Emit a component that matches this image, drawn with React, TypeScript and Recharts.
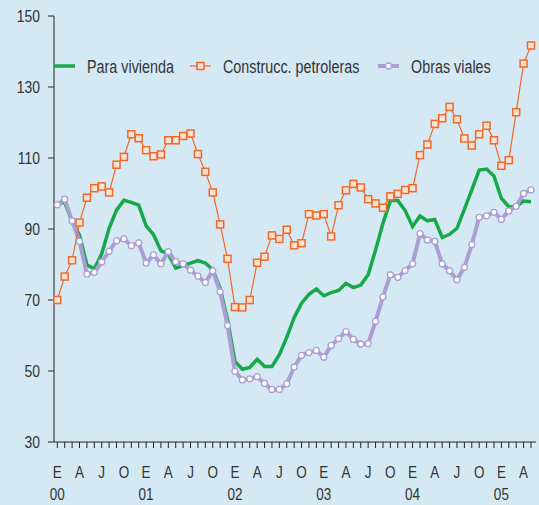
import { LineChart, Line, XAxis, YAxis, Legend } from "recharts";

// monthly series, Jan 2000 - May 2005
const monthLetters = ["E", "F", "M", "A", "M", "J", "J", "A", "S", "O", "N", "D"];
const years = ["00", "01", "02", "03", "04", "05"];

const vivienda = [
  97.0, 97.5, 92.1, 88.3, 79.9, 78.7, 83.0, 90.2, 95.3, 98.1, 97.5, 96.7,
  90.9, 88.4, 83.9, 83.0, 79.0, 79.7, 80.4, 81.1, 80.4, 78.5, 73.3, 64.4,
  52.7, 50.5, 51.0, 53.3, 51.3, 51.3, 54.6, 59.5, 65.0, 69.1, 71.6, 73.1,
  71.2, 72.1, 72.7, 74.7, 73.5, 74.2, 77.1, 84.1, 91.6, 98.0, 98.0, 95.2,
  90.7, 93.7, 92.3, 92.7, 87.6, 88.5, 90.2, 95.5, 101.0, 106.6, 106.9, 104.9,
  98.6, 96.3, 96.3, 97.9, 97.7,
];

const petroleras = [
  70.0, 76.6, 81.2, 91.8, 98.8, 101.5, 102.0, 100.3, 108.1, 110.3, 116.7, 115.6,
  112.2, 110.5, 111.0, 115.0, 115.0, 116.2, 116.9, 111.1, 106.1, 100.3, 91.3, 81.6,
  68.0, 67.9, 70.0, 80.5, 82.2, 88.2, 87.2, 89.8, 85.4, 86.0, 94.2, 93.8,
  94.2, 87.9, 96.7, 100.9, 102.7, 101.7, 98.4, 97.2, 96.0, 99.2, 99.9, 101.0,
  101.5, 110.8, 113.8, 119.6, 121.2, 124.4, 120.9, 115.5, 113.5, 116.7, 119.1, 115.0,
  107.8, 109.4, 122.9, 136.6, 141.7,
];

const viales = [
  96.8, 98.4, 92.3, 86.5, 77.3, 77.8, 80.7, 83.7, 86.7, 87.2, 85.3, 86.1,
  80.4, 82.7, 80.2, 83.6, 80.8, 80.2, 78.4, 76.7, 74.9, 78.2, 72.3, 62.8,
  49.9, 47.5, 47.8, 48.4, 46.5, 44.8, 44.8, 46.4, 51.1, 54.4, 55.2, 55.8,
  53.9, 57.2, 59.1, 61.1, 58.9, 57.6, 57.7, 64.0, 70.9, 77.1, 76.4, 78.3,
  80.2, 88.7, 86.9, 86.5, 80.2, 78.2, 75.7, 79.2, 85.6, 93.3, 93.7, 94.7,
  92.7, 95.1, 96.4, 100.0, 101.0,
];

const yTicks = [30, 50, 70, 90, 110, 130, 150];

const data = vivienda.map((v, i) => ({
  i,
  vivienda: v,
  petroleras: petroleras[i],
  viales: viales[i],
}));
const xTicks = data.map((d) => d.i);

const FONT = '"Liberation Sans", Arial, sans-serif';
const NARROW = 0.82; // squeeze to look like a condensed face
const TEXT = "#333333";
const GREEN = "#17a84a";
const ORANGE = "#f0692a";
const PURPLE = "#ab9ed2";

function NarrowText({ x, y, size, anchor, children }: any) {
  return (
    <text
      transform={`translate(${x},${y}) scale(${NARROW},1)`}
      textAnchor={anchor}
      fontSize={size}
      fill={TEXT}
      fontFamily={FONT}
    >
      {children}
    </text>
  );
}

function MonthTick(props: any) {
  const { x, y, payload } = props;
  const i = payload.value as number;
  if (i % 3 !== 0) return null;
  return (
    <g>
      <NarrowText x={x} y={y + 28} size={16.5} anchor="middle">
        {monthLetters[i % 12]}
      </NarrowText>
      {i % 12 === 0 && (
        <NarrowText x={x} y={y + 50} size={16.5} anchor="middle">
          {years[i / 12]}
        </NarrowText>
      )}
    </g>
  );
}

function ValueTick(props: any) {
  const { x, y, payload } = props;
  return (
    <NarrowText x={x} y={y + 6} size={17} anchor="end">
      {payload.value}
    </NarrowText>
  );
}

function SquareDot(props: any) {
  const { cx, cy } = props;
  if (cx == null || cy == null) return null;
  return (
    <rect x={cx - 3.5} y={cy - 3.5} width={7} height={7} fill="#fbe2d2" stroke={ORANGE} strokeWidth={1.5} />
  );
}

function CircleDot(props: any) {
  const { cx, cy } = props;
  if (cx == null || cy == null) return null;
  return <circle cx={cx} cy={cy} r={3} fill="#ffffff" stroke={PURPLE} strokeWidth={1.3} />;
}

const legendItems = [
  { name: "Para vivienda", kind: "line", at: 0 },
  { name: "Construcc. petroleras", kind: "square", at: 136 },
  { name: "Obras viales", kind: "circle", at: 324 },
];

function LegendContent() {
  return (
    <svg width={480} height={24}>
      {legendItems.map((it) => (
        <g key={it.name} transform={`translate(${it.at},0)`}>
          {it.kind === "line" && <line x1={0} x2={21} y1={12} y2={12} stroke={GREEN} strokeWidth={3.5} />}
          {it.kind === "square" && (
            <g>
              <line x1={0} x2={21} y1={12} y2={12} stroke={ORANGE} strokeWidth={1.2} />
              <rect x={7} y={8.5} width={7} height={7} fill="#fbe2d2" stroke={ORANGE} strokeWidth={1.5} />
            </g>
          )}
          {it.kind === "circle" && (
            <g>
              <line x1={0} x2={21} y1={12} y2={12} stroke={PURPLE} strokeWidth={4} />
              <circle cx={10.5} cy={12} r={3} fill="#ffffff" stroke={PURPLE} strokeWidth={1.3} />
            </g>
          )}
          <NarrowText x={33} y={18.5} size={17.5} anchor="start">
            {it.name}
          </NarrowText>
        </g>
      ))}
    </svg>
  );
}

export default function App() {
  return (
    <div style={{ position: "absolute", left: 0, top: 0, width: 539, height: 505, background: "#d5e9f5" }}>
      <LineChart width={539} height={505} data={data} margin={{ top: 16, right: 3, bottom: 0, left: 0 }}>
        <XAxis
          dataKey="i"
          type="number"
          domain={[0, 64]}
          ticks={xTicks}
          interval={0}
          padding={{ left: 3.3, right: 5 }}
          height={63}
          stroke="#222222"
          tickSize={6}
          tickMargin={2}
          tick={<MonthTick />}
        />
        <YAxis
          domain={[30, 150]}
          ticks={yTicks}
          interval={0}
          width={54}
          stroke="#222222"
          tickSize={6}
          tickMargin={8}
          tick={<ValueTick />}
        />
        <Legend
          layout="horizontal"
          verticalAlign="middle"
          align="center"
          content={<LegendContent />}
          wrapperStyle={{ top: 54, left: 54, width: 480, height: 24 }}
        />
        <Line
          dataKey="vivienda"
          stroke={GREEN}
          strokeWidth={3.5}
          dot={false}
          isAnimationActive={false}
        />
        <Line
          dataKey="viales"
          stroke={PURPLE}
          strokeWidth={4}
          dot={<CircleDot />}
          isAnimationActive={false}
        />
        <Line
          dataKey="petroleras"
          stroke={ORANGE}
          strokeWidth={1.2}
          dot={<SquareDot />}
          isAnimationActive={false}
        />
      </LineChart>
    </div>
  );
}
